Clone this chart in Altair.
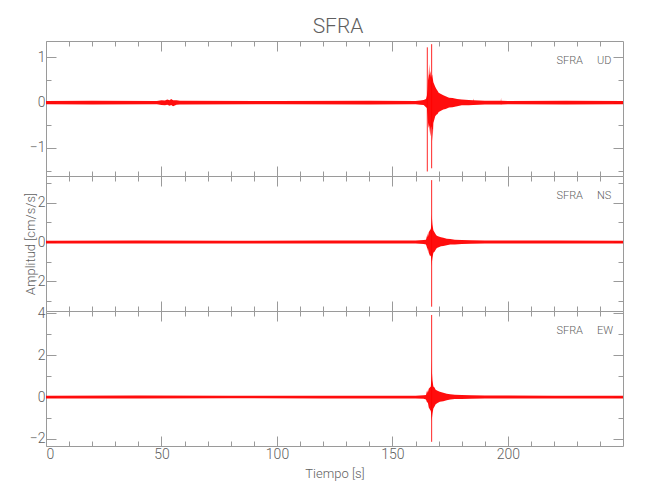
import altair as alt
import pandas as pd

FONT = "Roboto"
GRAY_TXT = "#5f5f5f"
GRAY_LINE = "#9a9a9a"

STATION = "SFRA"
X_TITLE = "Tiempo [s]"
Y_TITLE = "Amplitud [cm/s/s]"
T_END = 249.8
X_MAJOR = [0, 50, 100, 150, 200]
X_MINOR = [10, 20, 30, 40, 60, 70, 80, 90, 110, 120, 130, 140,
           160, 170, 180, 190, 210, 220, 230, 240]

COMPONENTS = ["UD", "NS", "EW"]
Y_DOMAINS = [[-1.62, 1.36], [-3.52, 3.37], [-2.34, 4.11]]
Y_MAJOR = [[-1, 0, 1], [-2, 0, 2], [-2, 0, 2, 4]]
Y_MINOR = [[-1.5, -0.5, 0.5], [-3, -1, 1, 3], [-1, 1, 3]]

# envelope of each trace (time [s], upper, lower)
UD_T = [0, 20, 48, 50, 51.5, 52.5, 53.5, 54.2, 55, 56.5, 58, 100,
        140, 160, 162, 163.5, 164.5, 164.9, 165.2, 165.4, 165.7, 165.9,
        166.1, 166.4, 166.7, 167.0, 167.2, 167.4, 167.7, 168.1, 168.5, 169.0,
        169.5, 170.0, 171.0, 172.0, 173.0, 174.5, 176.0, 178.0, 180.0, 183.0,
        184.9, 185.0, 185.1, 190.0, 196.9, 197.0, 197.1, 200.0, 225.0, 249.8]
UD_HI = [0.035, 0.04, 0.035, 0.05, 0.045, 0.07, 0.05, 0.08, 0.05, 0.05, 0.04, 0.035,
         0.04, 0.035, 0.045, 0.055, 0.08, 0.15, 0.30, 0.50, 0.62, 0.85,
         0.60, 0.70, 0.55, 0.60, 0.62, 0.55, 0.45, 0.40, 0.35, 0.30,
         0.26, 0.22, 0.19, 0.16, 0.14, 0.11, 0.10, 0.08, 0.07, 0.06,
         0.05, 0.09, 0.05, 0.04, 0.04, 0.11, 0.04, 0.035, 0.04, 0.035]
UD_LO = [-0.035, -0.04, -0.035, -0.05, -0.06, -0.045, -0.07, -0.05, -0.08, -0.045, -0.04, -0.035,
         -0.04, -0.035, -0.045, -0.055, -0.10, -0.12, -0.30, -0.45, -0.56, -0.50,
         -0.60, -0.75, -0.52, -0.55, -0.60, -0.85, -0.45, -0.38, -0.30, -0.27,
         -0.25, -0.21, -0.18, -0.15, -0.14, -0.11, -0.10, -0.08, -0.06, -0.06,
         -0.05, -0.05, -0.05, -0.04, -0.04, -0.05, -0.04, -0.035, -0.04, -0.035]
# largest single swings (time [s], top, bottom)
UD_SPIKE_T = [165.08, 166.96]
UD_SPIKE_HI = [1.22, 1.29]
UD_SPIKE_LO = [-1.52, -1.45]

NS_T = [0, 40, 80, 120, 160, 163.5, 164.5, 165.0, 165.1, 165.3,
        165.7, 166.2, 166.6, 166.9, 167.0, 167.1, 167.3, 167.7, 168.2, 168.7,
        169.2, 170.0, 171.0, 172.0, 173.5, 175.0, 177.0, 180.0, 184.0, 190.0,
        220.0, 249.8]
NS_HI = [0.07, 0.075, 0.07, 0.075, 0.075, 0.10, 0.12, 0.35, 0.45, 0.25,
         0.50, 0.60, 0.66, 1.00, 1.43, 1.20, 0.90, 0.60, 0.50, 0.40,
         0.32, 0.28, 0.24, 0.22, 0.17, 0.15, 0.12, 0.10, 0.09, 0.08,
         0.075, 0.07]
NS_LO = [-0.07, -0.075, -0.07, -0.075, -0.075, -0.10, -0.12, -0.30, -0.46, -0.30,
         -0.55, -0.70, -0.70, -1.00, -1.22, -1.00, -0.80, -0.55, -0.50, -0.40,
         -0.30, -0.26, -0.22, -0.20, -0.16, -0.13, -0.12, -0.10, -0.09, -0.08,
         -0.075, -0.07]
NS_SPIKE_T = [166.96]
NS_SPIKE_HI = [3.16]
NS_SPIKE_LO = [-3.30]

EW_T = [0, 40, 80, 120, 160, 163.5, 164.5, 165.0, 165.3, 165.7,
        166.2, 166.6, 166.9, 167.0, 167.1, 167.3, 167.7, 168.2, 168.7, 169.5,
        170.5, 172.0, 173.5, 175.0, 177.0, 180.0, 184.0, 190.0, 220.0, 249.8]
EW_HI = [0.065, 0.07, 0.06, 0.065, 0.065, 0.08, 0.10, 0.32, 0.20, 0.40,
         0.45, 0.50, 1.00, 1.72, 1.16, 0.80, 0.50, 0.45, 0.35, 0.30,
         0.25, 0.20, 0.16, 0.13, 0.11, 0.10, 0.08, 0.07, 0.065, 0.065]
EW_LO = [-0.065, -0.07, -0.06, -0.065, -0.065, -0.08, -0.12, -0.27, -0.25, -0.50,
         -0.60, -0.67, -1.00, -1.15, -1.00, -0.80, -0.55, -0.45, -0.35, -0.28,
         -0.22, -0.20, -0.15, -0.12, -0.10, -0.09, -0.08, -0.07, -0.065, -0.065]
EW_SPIKE_T = [166.96]
EW_SPIKE_HI = [3.92]
EW_SPIKE_LO = [-2.14]

TRACES = [(UD_T, UD_HI, UD_LO), (NS_T, NS_HI, NS_LO), (EW_T, EW_HI, EW_LO)]
SPIKES = [(UD_SPIKE_T, UD_SPIKE_HI, UD_SPIKE_LO),
          (NS_SPIKE_T, NS_SPIKE_HI, NS_SPIKE_LO),
          (EW_SPIKE_T, EW_SPIKE_HI, EW_SPIKE_LO)]

W, H = 577, 135
RED = "#ff0000"


def panel(i):
    t, hi, lo = TRACES[i]
    df = pd.DataFrame({"t": t, "hi": hi, "lo": lo})
    st_, sh, sl = SPIKES[i]
    dsp = pd.DataFrame({"t": st_, "hi": sh, "lo": sl})
    xs = alt.Scale(domain=[0, T_END], nice=False, zero=False)
    ys = alt.Scale(domain=Y_DOMAINS[i], nice=False, zero=False)
    bottom = i == 2
    middle = i == 1
    base = alt.Chart(df)

    x_main = dict(orient="bottom", offset=-10, tickSize=10, values=X_MAJOR,
                  domain=False, labels=bottom, labelPadding=1, titlePadding=6)
    x_main["title"] = X_TITLE if bottom else None
    y_main = dict(orient="left", offset=-10, tickSize=10, values=Y_MAJOR[i],
                  domain=False, labelPadding=1, titlePadding=-8)
    y_main["title"] = Y_TITLE if middle else None

    data = base.mark_area(color=RED, opacity=0.95, clip=True).encode(
        x=alt.X("t:Q", scale=xs, axis=alt.Axis(**x_main)),
        y=alt.Y("lo:Q", scale=ys, axis=alt.Axis(**y_main)),
        y2="hi:Q",
    )
    spikes = alt.Chart(dsp).mark_rule(color=RED, strokeWidth=1, opacity=0.85).encode(
        x=alt.X("t:Q", scale=xs, axis=None),
        y=alt.Y("lo:Q", scale=ys, axis=None),
        y2="hi:Q",
    )

    def tick_layer(xo, yo, size, xv, yv):
        return base.mark_point(opacity=0).encode(
            x=alt.X("t:Q", scale=xs, axis=alt.Axis(orient=xo, offset=-size, tickSize=size,
                                                   values=xv, labels=False, domain=False,
                                                   title=None)),
            y=alt.Y("hi:Q", scale=ys, axis=alt.Axis(orient=yo, offset=-size, tickSize=size,
                                                    values=yv, labels=False, domain=False,
                                                    title=None)),
        )

    l_minor = tick_layer("bottom", "left", 5, X_MINOR, Y_MINOR[i])
    l_top = tick_layer("top", "right", 10, X_MAJOR, Y_MAJOR[i])
    l_top_minor = tick_layer("top", "right", 5, X_MINOR, Y_MINOR[i])

    st = alt.Chart(pd.DataFrame({"s": [STATION]})).mark_text(
        align="right", baseline="middle", font=FONT, fontSize=11, fontWeight=300,
        color=GRAY_TXT
    ).encode(x=alt.value(W - 40), y=alt.value(20), text="s:N")
    comp = alt.Chart(pd.DataFrame({"c": [COMPONENTS[i]]})).mark_text(
        align="left", baseline="middle", font=FONT, fontSize=11, fontWeight=300,
        color=GRAY_TXT
    ).encode(x=alt.value(W - 26), y=alt.value(20), text="c:N")

    return alt.layer(data, spikes, l_minor, l_top, l_top_minor, st, comp).resolve_scale(
        x="independent", y="independent"
    ).resolve_axis(x="independent", y="independent").properties(width=W, height=H)


chart = alt.vconcat(panel(0), panel(1), panel(2), spacing=0, bounds="flush").properties(
    title=alt.TitleParams(STATION, font=FONT, fontSize=21, fontWeight=300, color=GRAY_TXT,
                          anchor="middle", offset=3, dx=13),
    padding={"left": 15, "top": 8, "right": 5, "bottom": 5},
).configure_axis(
    labelFont=FONT, labelFontSize=14, labelFontWeight=300, labelColor=GRAY_TXT,
    tickColor=GRAY_LINE, tickWidth=1, grid=False,
    titleFont=FONT, titleFontSize=13, titleColor=GRAY_TXT, titleFontWeight=300,
).configure_view(stroke=GRAY_LINE, strokeWidth=1).configure_concat(spacing=0)

chart.save("out.html", embed_options={"renderer": "svg", "actions": False})
